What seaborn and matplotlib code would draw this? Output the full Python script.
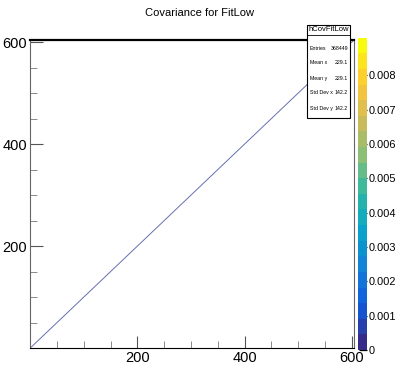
import numpy as np
import seaborn as sns
import matplotlib.pyplot as plt
from matplotlib.colors import LinearSegmentedColormap, BoundaryNorm
from matplotlib.ticker import MultipleLocator
import matplotlib.cm as cm

# data
title = "Covariance for FitLow"
hist_name = "hCovFitLow"
diag_x = [0, 604]
diag_y = [0, 604]
stat_names = ["Entries", "Mean x", "Mean y", "Std Dev x", "Std Dev y"]
stat_values = ["368449", "229.1", "229.1", "142.2", "142.2"]
z_max = 0.0091
z_ticks = [0, 0.001, 0.002, 0.003, 0.004, 0.005, 0.006, 0.007, 0.008]
n_levels = 20

# ROOT kBird palette
bird_r = [0.2082, 0.0592, 0.0780, 0.0232, 0.1802, 0.5301, 0.8186, 0.9956, 0.9764]
bird_g = [0.1664, 0.3599, 0.5041, 0.6419, 0.7178, 0.7492, 0.7328, 0.7862, 0.9832]
bird_b = [0.5293, 0.8684, 0.8385, 0.7914, 0.6425, 0.4662, 0.3499, 0.1968, 0.0539]
bird = LinearSegmentedColormap.from_list("bird", list(zip(bird_r, bird_g, bird_b)))

sns.set_style("ticks")
plt.rcParams['font.family'] = ['Liberation Sans', 'DejaVu Sans']
plt.rcParams['text.color'] = 'black'
plt.rcParams['xtick.labelcolor'] = 'black'
plt.rcParams['ytick.labelcolor'] = 'black'

fig = plt.figure(figsize=(3.96, 3.70), dpi=100)
ax = fig.add_axes([0.076, 0.059, 0.818, 0.833])

levels = np.linspace(0, z_max, n_levels + 1)
norm = BoundaryNorm(levels, bird.N)

# diagonal of the covariance matrix
sns.lineplot(x=diag_x, y=diag_y, ax=ax, color='#4b56a3', lw=0.7, alpha=0.85)

ax.set_xlim(0, 604)
ax.set_ylim(0, 604)
ax.xaxis.set_minor_locator(MultipleLocator(50))
ax.yaxis.set_minor_locator(MultipleLocator(50))
ax.set_xticks([200, 400, 600])
ax.set_yticks([200, 400, 600])
ax.tick_params(which='major', direction='in', length=9, width=0.8, color='#555555',
               labelsize=10.5, pad=2, top=False, right=False, labelcolor='black')
ax.tick_params(which='minor', direction='in', length=5, width=0.6, color='#777777',
               top=False, right=False)
for s in ['left', 'right']:
    ax.spines[s].set_color('#666666')
    ax.spines[s].set_linewidth(0.8)
ax.spines['top'].set_color('black')
ax.spines['top'].set_linewidth(1.6)
ax.spines['bottom'].set_color('black')
ax.spines['bottom'].set_linewidth(0.8)

fig.text(0.505, 0.965, title, ha='center', va='center', fontsize=8)

# palette axis
cax = fig.add_axes([0.904, 0.054, 0.023, 0.844])
sm = cm.ScalarMappable(norm=norm, cmap=bird)
cb = fig.colorbar(sm, cax=cax, ticks=z_ticks)
cb.outline.set_visible(False)
cb.ax.set_yticklabels([f"{t:g}" for t in z_ticks])
cb.ax.tick_params(direction='in', length=6, width=0.9, color='black', labelsize=7.9, pad=1,
                  labelcolor='black')
cb.ax.minorticks_off()

# stats box
bx0, by0, bw, bh = 0.775, 0.681, 0.110, 0.252
fig.patches.append(plt.Rectangle((bx0, by0), bw, bh, transform=fig.transFigure,
                                 facecolor='white', edgecolor='black', lw=0.8, zorder=5))
fig.add_artist(plt.Line2D([bx0, bx0 + bw], [0.906, 0.906], transform=fig.transFigure,
                          color='black', lw=0.6, zorder=6))
fig.text(bx0 + bw / 2, 0.921, hist_name, ha='center', va='center', fontsize=5.5, zorder=7)
row_y = [0.870, 0.832, 0.789, 0.749, 0.706]
for name, val, y in zip(stat_names, stat_values, row_y):
    fig.text(bx0 + 0.007, y, name, ha='left', va='center', fontsize=3.8, zorder=7)
    fig.text(bx0 + bw - 0.006, y, val, ha='right', va='center', fontsize=3.8, zorder=7)

fig.savefig("out.png", dpi=100)
